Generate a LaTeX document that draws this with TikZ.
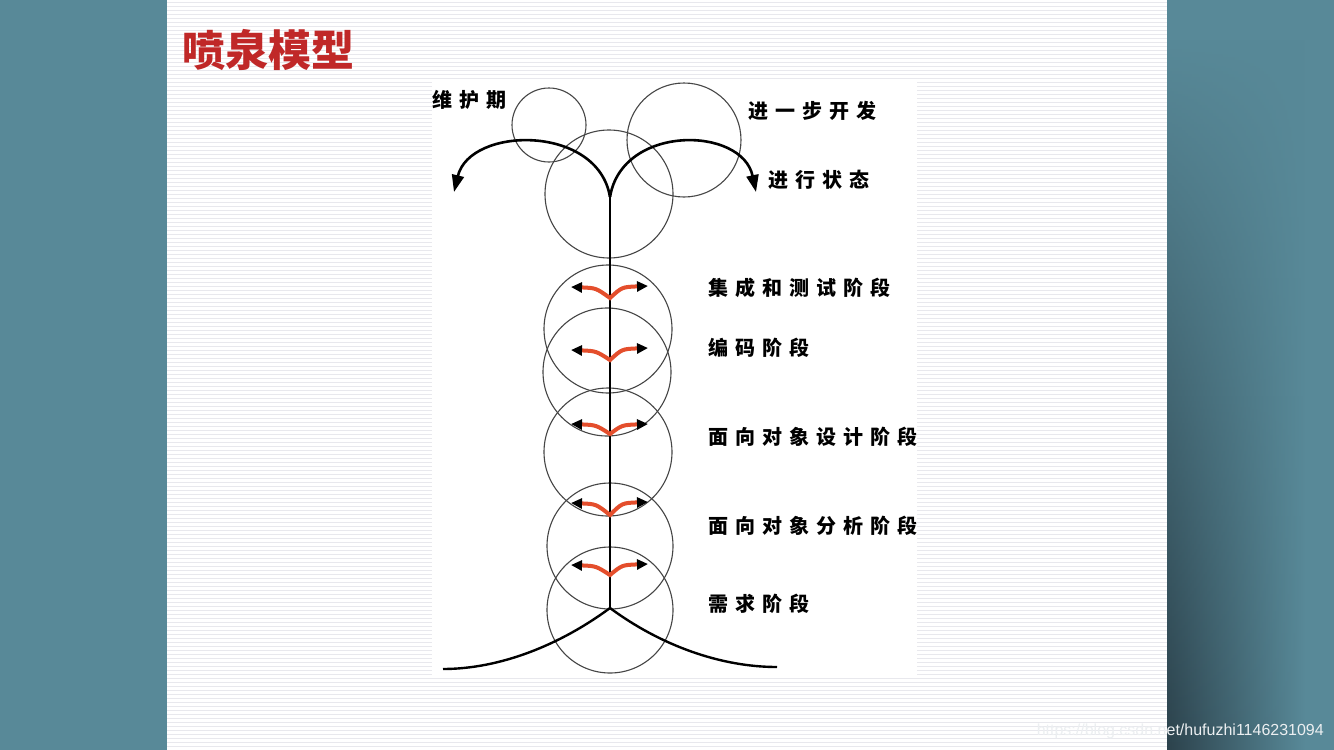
\documentclass[tikz,border=0pt]{standalone}
\usepackage{fontspec}
\setmainfont{Liberation Sans}
\newfontfamily\cjk[LetterSpace=35]{Noto Sans CJK SC}
\newfontfamily\cjktitle{Noto Sans CJK SC}
\usetikzlibrary{arrows.meta,fadings}
\definecolor{slideteal}{RGB}{88,137,152}
\definecolor{shadowdark}{RGB}{44,66,76}
\definecolor{stripe}{RGB}{232,232,237}
\definecolor{titlered}{RGB}{192,40,40}
\definecolor{redline}{RGB}{228,78,44}
\tikzset{
  ring/.style={draw={rgb,255:red,70;green,70;blue,70}, line width=1.1pt},
  stem/.style={draw=black, line width=2pt},
  flow/.style={draw=black, line width=2.6pt, -{Triangle[length=17pt,width=12pt]}},
  redv/.style={draw=redline, line width=4pt,
    {Triangle[color=black,length=11pt,width=10pt]}-{Triangle[color=black,length=11pt,width=10pt]}},
  phase/.style={anchor=west, inner sep=0pt, font=\cjk\bfseries\fontsize{20}{20}\selectfont},
}
\begin{document}
\begin{tikzpicture}[x=1pt,y=-1pt]
  \useasboundingbox (0,0) rectangle (1334,750);
  % backdrop and slide
  \fill[slideteal] (0,0) rectangle (1334,750);
  \shade[left color=shadowdark, right color=slideteal, path fading=north] (1167,40) rectangle (1305,750);
  \fill[white] (167,0) rectangle (1167,750);
  \foreach \y in {2,6,...,750}{
    \draw[stripe, line width=1pt] (167,\y) -- (1167,\y);
  }
  \fill[white] (432,82) rectangle (917,678);
  \node[anchor=west, inner sep=0pt, text=titlered, font=\cjktitle\bfseries\fontsize{43}{43}\selectfont] (title) at (182,50) {喷泉模型};
  % circles
  \foreach \name/\cx/\cy/\r in {maint/549/125/37, dev/684/140/57, top/609/194/64,
      integ/608/329/64, code/607/372/64, design/608/452/64, analysis/610/546/63, req/610/610/63}{
    \coordinate (\name) at (\cx,\cy);
    \draw[ring] (\name) circle[radius=\r pt];
  }
  % stem, fork and base
  \coordinate (fork) at (610,197);
  \coordinate (root) at (610,608);
  \coordinate (maintend) at (454,192);
  \coordinate (devend) at (756,192);
  \coordinate (baseL) at (443,669);
  \coordinate (baseR) at (777,667);
  \draw[stem] (root) -- (fork);
  \draw[flow] (fork) .. controls (598,124) and (470,126) .. (maintend);
  \draw[flow] (fork) .. controls (622,124) and (742,126) .. (devend);
  \draw[stem, line width=2.4pt] (root) .. controls (560,645) and (500,669) .. (baseL);
  \draw[stem, line width=2.4pt] (root) .. controls (660,645) and (720,667) .. (baseR);
  % red iterations
  \foreach \i/\vy/\ly/\ry in {1/298/287/286, 2/360/350/348, 3/434/424/424, 4/515/503/502, 5/575/565/564}{
    \coordinate (vl\i) at (571,\ly);
    \coordinate (vm\i) at (610,\vy);
    \coordinate (vr\i) at (648,\ry);
    \draw[redv] (vl\i) .. controls (596,\ly+1) .. (vm\i) .. controls (622,\ry+1) .. (vr\i);
  }
  % labels
  \node[phase] (maintlbl) at (432,100) {维护期};
  \node[phase] (devlbl) at (748,111) {进一步开发};
  \node[phase] (runlbl) at (768,180) {进行状态};
  \node[phase] (integlbl) at (708,288) {集成和测试阶段};
  \node[phase] (codelbl) at (708,348) {编码阶段};
  \node[phase] (designlbl) at (708,437) {面向对象设计阶段};
  \node[phase] (analysislbl) at (708,526) {面向对象分析阶段};
  \node[phase] (reqlbl) at (708,604) {需求阶段};
  \node[anchor=east, inner sep=0pt, text={rgb,255:red,236;green,239;blue,241}, font=\fontsize{16}{16}\selectfont] (mark) at (1324,731) {https://blog.csdn.net/hufuzhi1146231094};
\end{tikzpicture}
\end{document}
